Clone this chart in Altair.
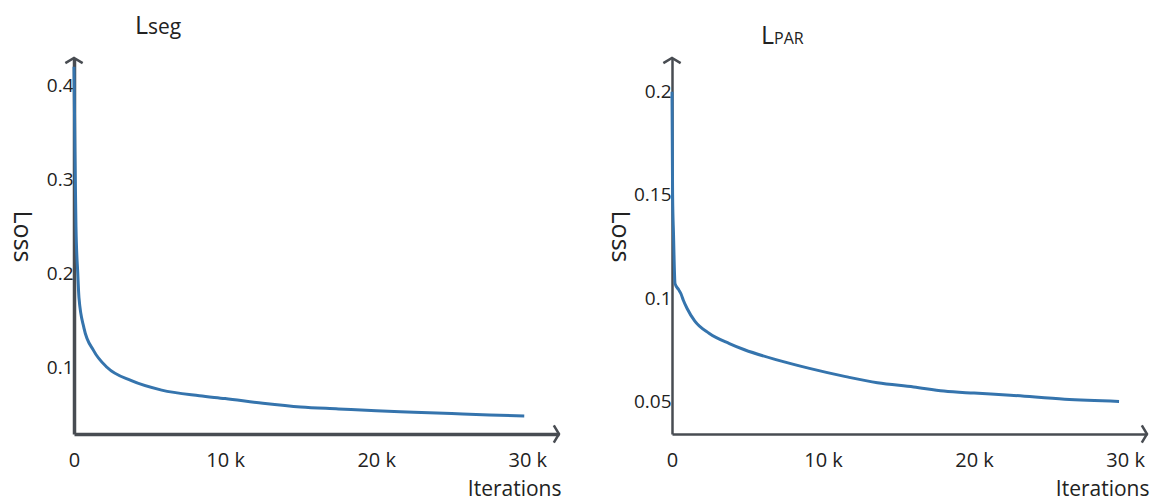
import altair as alt
import pandas as pd

# ---- data ----
seg_iter = [0, 60, 130, 250, 330, 660, 1300, 2200, 3800, 5800, 8300, 10000, 12500, 15000, 17500, 20000, 22500, 25000, 27500, 29800]
seg_loss = [0.42, 0.33, 0.25, 0.20, 0.174, 0.142, 0.118, 0.100, 0.086, 0.076, 0.070, 0.067, 0.062, 0.058, 0.056, 0.054, 0.0525, 0.051, 0.0495, 0.0484]

par_iter = [0, 40, 100, 200, 450, 600, 750, 1000, 1500, 2450, 3800, 4800, 7000, 9100, 11500, 13600, 16000, 18000, 20000, 22400, 26000, 29600]
par_loss = [0.20, 0.15, 0.131, 0.107, 0.104, 0.102, 0.099, 0.095, 0.089, 0.083, 0.078, 0.075, 0.070, 0.066, 0.062, 0.059, 0.057, 0.055, 0.054, 0.053, 0.051, 0.050]

x_ticks = [0, 10000, 20000, 30000]
seg_yticks = [0.1, 0.2, 0.3, 0.4]
par_yticks = [0.05, 0.1, 0.15, 0.2]

FONT = "Open Sans"
LINE = "#3574ad"
AXIS = "#484c52"
TXT = "#222222"


def panel(iters, losses, xdom, ydom, yticks, W, H, dw, title_main, title_sub, tx, ty, sub_size):
    df = pd.DataFrame({"it": iters, "loss": losses})
    xlab = "datum.value == 0 ? '0' : (datum.value / 1000) + ' k'"
    line = alt.Chart(df).mark_line(color=LINE, strokeWidth=3, interpolate="monotone").encode(
        x=alt.X("it:Q", scale=alt.Scale(domain=xdom, nice=False, zero=False),
                axis=alt.Axis(values=x_ticks, labelExpr=xlab, grid=False, ticks=False, tickSize=0,
                              domainColor=AXIS, domainWidth=dw, labelFontSize=20, labelPadding=16,
                              labelColor=TXT, labelFont=FONT, title="Iterations", titleFont=FONT,
                              titleFontSize=21, titleFontWeight="normal", titleColor=TXT,
                              titleAnchor="end", titleAlign="right", titleX=W + 2, titleY=55,
                              titleBaseline="middle", labelFlush=False)),
        y=alt.Y("loss:Q", scale=alt.Scale(domain=ydom, nice=False, zero=False),
                axis=alt.Axis(values=yticks, format="~g", grid=False, ticks=False, tickSize=0,
                              domainColor=AXIS, domainWidth=dw, labelFontSize=19, labelPadding=1,
                              labelColor=TXT, labelFont=FONT, title="Loss", titleFont=FONT,
                              titleFontSize=25, titleFontWeight="normal", titleColor=TXT,
                              titleAngle=90, titleX=-53, titleY=178, titleAlign="center",
                              titleBaseline="middle")),
    )
    one = alt.Data(values=[{}])
    up = alt.Chart(one).mark_point(shape="M-1,0.6L0,0L1,0.6", filled=False, color=AXIS,
                                   strokeWidth=2.5, size=300, opacity=1).encode(
        x=alt.value(0), y=alt.value(0))
    right = alt.Chart(one).mark_point(shape="M-0.6,-1L0,0L-0.6,1", filled=False, color=AXIS,
                                      strokeWidth=2.5, size=300, opacity=1).encode(
        x=alt.value(W), y=alt.value(H))
    t1 = alt.Chart(one).mark_text(text=title_main, font=FONT, fontSize=25, color=TXT,
                                  align="left", baseline="alphabetic").encode(
        x=alt.value(tx), y=alt.value(ty))
    t2 = alt.Chart(one).mark_text(text=title_sub, font=FONT, fontSize=sub_size, color=TXT,
                                  align="left", baseline="alphabetic").encode(
        x=alt.value(tx + 13), y=alt.value(ty))
    return alt.layer(line, up, right, t1, t2).properties(width=W, height=H)


left = panel(seg_iter, seg_loss, [0, 32100], [0.0293, 0.4293], seg_yticks, 485, 376, 3.5,
             "L", "seg", 61, -24, 21)
rightp = panel(par_iter, par_loss, [0, 31450], [0.0342, 0.2163], par_yticks, 475, 376, 2.5,
               "L", "PAR", 89, -14, 16)

chart = alt.hconcat(left, rightp, spacing=113, bounds="flush").properties(
    padding={"left": 0, "top": 6, "right": 5, "bottom": 2},
    background="white",
).configure_view(strokeOpacity=0, strokeWidth=0)

chart.save("out.html", embed_options={"renderer": "svg", "actions": False})
